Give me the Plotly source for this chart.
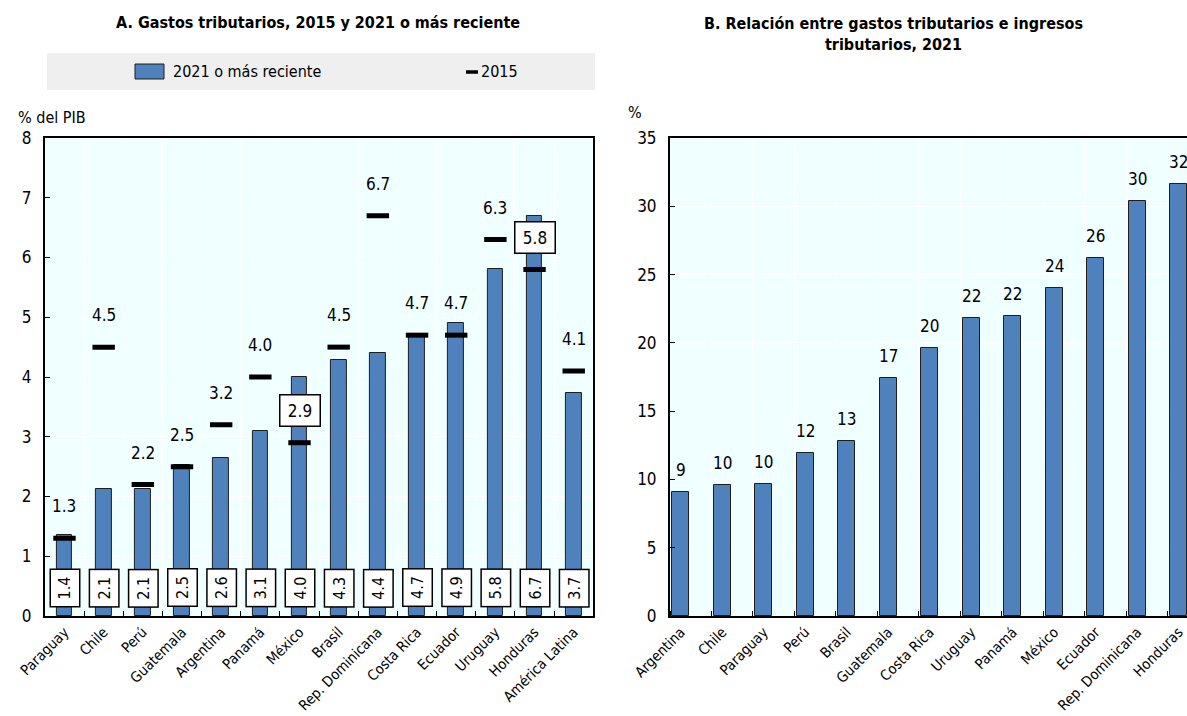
import plotly.graph_objects as go

# ---------------- data ----------------
cats_a = ["Paraguay", "Chile", "Perú", "Guatemala", "Argentina", "Panamá", "México",
          "Brasil", "Rep. Dominicana", "Costa Rica", "Ecuador", "Uruguay", "Honduras",
          "América Latina"]
val_2021 = [1.36, 2.13, 2.13, 2.52, 2.64, 3.10, 4.00, 4.28, 4.41, 4.70, 4.90, 5.81, 6.70, 3.74]
val_2015 = [1.3, 4.5, 2.2, 2.5, 3.2, 4.0, 2.9, 4.5, 6.7, 4.7, 4.7, 6.3, 5.8, 4.1]

cats_b = ["Argentina", "Chile", "Paraguay", "Perú", "Brasil", "Guatemala", "Costa Rica",
          "Uruguay", "Panamá", "México", "Ecuador", "Rep. Dominicana", "Honduras"]
ratio_2021 = [9.1, 9.6, 9.7, 11.9, 12.8, 17.4, 19.6, 21.8, 22.0, 24.0, 26.2, 30.4, 31.6]

title_a = "A. Gastos tributarios, 2015 y 2021 o más reciente"
title_b = "B. Relación entre gastos tributarios e ingresos<br>tributarios, 2021"
ylab_a = "% del PIB"
ylab_b = "%"
name_bar = "2021 o más reciente"
name_dash = "2015"

# ---------------- style ----------------
FONT = "DejaVu Sans Condensed, Liberation Sans Narrow, Arial Narrow, Liberation Sans, Arial, sans-serif"
BLUE = "#4F81BD"
EDGE = "#1E1E1E"
BG = "#F0FFFF"
W, H = 1187, 716


def px(x):
    return x / W


def py(y):
    return 1 - y / H


xa = [i for i in range(len(cats_a))]
xb = [i - 0.24 for i in range(len(cats_b))]

fig = go.Figure()

fig.add_trace(go.Bar(
    x=xa, y=val_2021, name=name_bar, width=0.4,
    marker=dict(color=BLUE, line=dict(color=EDGE, width=1)),
    xaxis="x", yaxis="y", showlegend=False))

fig.add_trace(go.Scatter(
    x=xa, y=val_2015, name=name_dash, mode="markers",
    marker=dict(symbol="line-ew", size=16, color="black",
                line=dict(color="black", width=5)),
    xaxis="x", yaxis="y", showlegend=False))

fig.add_trace(go.Bar(
    x=xb, y=ratio_2021, name=name_bar, width=0.41,
    marker=dict(color=BLUE, line=dict(color=EDGE, width=1)),
    xaxis="x2", yaxis="y2", showlegend=False))

ann = []
# 2015 values above the dashes (boxed when the dash sits well inside the bar)
for x, v15, v21 in zip(xa, val_2015, val_2021):
    boxed = v15 < v21 - 0.3
    a = dict(x=x, y=v15, xref="x", yref="y", text=f"{v15:.1f}", showarrow=False,
             yshift=32, font=dict(family=FONT, size=17, color="black"),
             xanchor="center", yanchor="middle")
    if boxed:
        a.update(bgcolor="white", bordercolor="black", borderwidth=1.5,
                 borderpad=3, width=33, height=24)
    ann.append(a)
# 2021 values in rotated boxes at the bottom
for x, v21 in zip(xa, val_2021):
    ann.append(dict(x=x, y=0, xref="x", yref="y", text=f"{v21:.1f}", showarrow=False,
                    yshift=28, textangle=-90, font=dict(family=FONT, size=16, color="black"),
                    bgcolor="white", bordercolor="black", borderwidth=1.5, borderpad=3,
                    width=30, height=22, xanchor="center", yanchor="middle"))
# panel B values
for x, v in zip(xb, ratio_2021):
    ann.append(dict(x=x, y=v, xref="x2", yref="y2", text=f"{v:.0f}", showarrow=False,
                    yshift=22, font=dict(family=FONT, size=17, color="black"),
                    xanchor="center", yanchor="middle"))

# titles and axis labels
ann.append(dict(x=px(318), y=py(22), xref="paper", yref="paper", text=f"<b>{title_a}</b>",
                showarrow=False, font=dict(family=FONT, size=16, color="black"),
                xanchor="center", yanchor="middle"))
ann.append(dict(x=px(893), y=py(34), xref="paper", yref="paper", text=f"<b>{title_b}</b>",
                showarrow=False, font=dict(family=FONT, size=16, color="black"),
                xanchor="center", yanchor="middle"))
ann.append(dict(x=px(16), y=py(117), xref="paper", yref="paper", text=ylab_a,
                showarrow=False, font=dict(family=FONT, size=16, color="black"),
                xanchor="left", yanchor="middle"))
ann.append(dict(x=px(626), y=py(112), xref="paper", yref="paper", text=ylab_b,
                showarrow=False, font=dict(family=FONT, size=16, color="black"),
                xanchor="left", yanchor="middle"))

# legend (drawn by hand to match the reference layout)
ann.append(dict(x=px(171), y=py(71.5), xref="paper", yref="paper", text=name_bar,
                showarrow=False, font=dict(family=FONT, size=16, color="black"),
                xanchor="left", yanchor="middle"))
ann.append(dict(x=px(479), y=py(71.5), xref="paper", yref="paper", text=name_dash,
                showarrow=False, font=dict(family=FONT, size=16, color="black"),
                xanchor="left", yanchor="middle"))

shapes = [
    dict(type="rect", xref="paper", yref="paper", x0=px(47), x1=px(595),
         y0=py(90), y1=py(53), fillcolor="#EFEFEF", line=dict(width=0), layer="below"),
    dict(type="rect", xref="paper", yref="paper", x0=px(135), x1=px(164),
         y0=py(79), y1=py(64), fillcolor=BLUE, line=dict(color=EDGE, width=1)),
    dict(type="line", xref="paper", yref="paper", x0=px(466), x1=px(478),
         y0=py(72), y1=py(72), line=dict(color="black", width=3.5)),
]

ydom = [(716 - 616) / H, (716 - 138) / H]
tickfont = dict(family=FONT, size=17, color="black")
catfont = dict(family=FONT, size=14.5, color="black")

fig.update_layout(
    width=W, height=H, margin=dict(l=0, r=0, t=0, b=0, autoexpand=False),
    paper_bgcolor="white", plot_bgcolor=BG,
    font=dict(family=FONT, color="black"),
    bargap=0, showlegend=False,
    xaxis=dict(domain=[px(44.9), px(593.3)], range=[-0.5, len(cats_a) - 0.5],
               tickmode="array", tickvals=xa, ticktext=cats_a, tickangle=-45,
               tickfont=catfont, ticks="", showgrid=False, zeroline=False,
               showline=True, linecolor="black", linewidth=2, mirror=True,
               minor=dict(tick0=-0.5, dtick=1, ticks="inside", ticklen=5, tickcolor="black",
                          tickwidth=1, showgrid=True, gridcolor="white", gridwidth=1),
               anchor="y", automargin=False),
    yaxis=dict(domain=ydom, range=[0, 8], tickmode="linear", tick0=0, dtick=1,
               tickfont=tickfont, ticks="inside", ticklen=5, tickcolor="black",
               showgrid=True, gridcolor="white", gridwidth=1, zeroline=False,
               showline=True, linecolor="black", linewidth=2, mirror=True,
               ticklabelstandoff=8, anchor="x", automargin=False),
    xaxis2=dict(domain=[px(670), 1.0], range=[-0.5, -0.5 + (W - 670) / 41.49],
                tickmode="array", tickvals=xb, ticktext=cats_b, tickangle=-45,
                tickfont=catfont, ticks="", showgrid=False, zeroline=False,
                showline=True, linecolor="black", linewidth=2, mirror=True,
                minor=dict(tick0=-0.5, dtick=1, ticks="inside", ticklen=5, tickcolor="black",
                           tickwidth=1, showgrid=True, gridcolor="white", gridwidth=1),
                anchor="y2", automargin=False),
    yaxis2=dict(domain=ydom, range=[0, 35], tickmode="linear", tick0=0, dtick=5,
                tickfont=tickfont, ticks="inside", ticklen=5, tickcolor="black",
                showgrid=True, gridcolor="white", gridwidth=1, zeroline=False,
                showline=True, linecolor="black", linewidth=2, mirror=False,
                ticklabelstandoff=8, anchor="x2", automargin=False),
    annotations=ann, shapes=shapes,
)

fig.write_html("out.html", post_script="document.body.style.margin='0';",
               config={"displayModeBar": False})
